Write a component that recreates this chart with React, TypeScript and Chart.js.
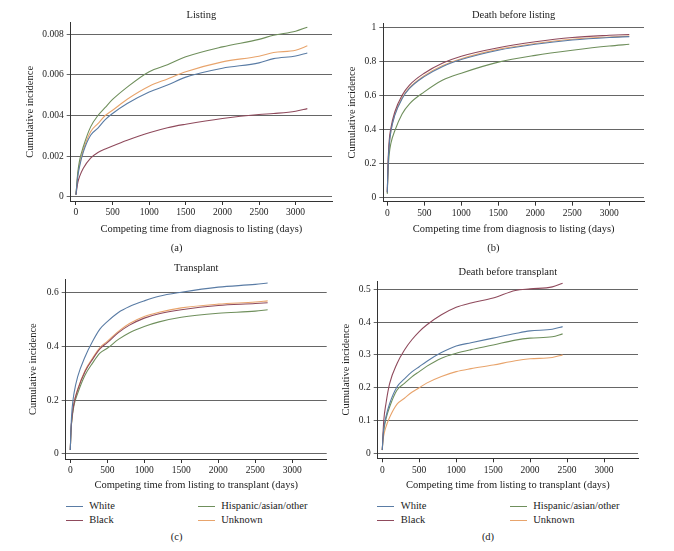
import React, { useEffect, useRef } from "react";
import { Chart, registerables } from "chart.js";
Chart.register(...registerables);

// ---------- data ----------
const seriesNames = ["White", "Black", "Hispanic/asian/other", "Unknown"];
const seriesColors = ["#5a7ca5", "#8f4a5c", "#6f8f5c", "#e8a46c"];

// (a) Listing
const listingTitle = "Listing";
const listingDays = [0, 25, 50, 100, 200, 300, 400, 500, 700, 1000, 1250, 1500, 2000, 2500, 2700, 3000, 3160];
const listingWhite = [0.0001, 0.001, 0.0015, 0.0022, 0.00303, 0.00338, 0.0038, 0.0041, 0.00459, 0.00516, 0.0055, 0.00589, 0.00633, 0.00659, 0.0068, 0.00693, 0.00708];
const listingBlack = [0.0001, 0.0007, 0.001, 0.0014, 0.0019, 0.00218, 0.00235, 0.0025, 0.00278, 0.00315, 0.0034, 0.00357, 0.00385, 0.00405, 0.0041, 0.00421, 0.00434];
const listingHispanic = [0.0001, 0.0012, 0.0018, 0.00246, 0.00344, 0.004, 0.0044, 0.00479, 0.0054, 0.00616, 0.0065, 0.00689, 0.00738, 0.00775, 0.00795, 0.00815, 0.00835];
const listingUnknown = [0.0001, 0.0011, 0.0016, 0.0023, 0.0032, 0.0036, 0.004, 0.00426, 0.0048, 0.00544, 0.0058, 0.00615, 0.00664, 0.00692, 0.0071, 0.00721, 0.00743];
const listingYTicks = [0, 0.002, 0.004, 0.006, 0.008];

// (b) Death before listing
const deathListTitle = "Death before listing";
const deathListDays = [0, 5, 10, 25, 50, 100, 200, 300, 500, 750, 1000, 1500, 2000, 2500, 3000, 3270];
const deathListWhite = [0.03, 0.11, 0.18, 0.3, 0.39, 0.48, 0.58, 0.64, 0.71, 0.77, 0.81, 0.865, 0.9, 0.925, 0.94, 0.945];
const deathListBlack = [0.03, 0.12, 0.2, 0.33, 0.41, 0.5, 0.6, 0.66, 0.73, 0.79, 0.83, 0.88, 0.915, 0.94, 0.953, 0.958];
const deathListHispanic = [0.02, 0.09, 0.15, 0.25, 0.32, 0.39, 0.49, 0.55, 0.62, 0.69, 0.73, 0.795, 0.835, 0.865, 0.89, 0.9];
const deathListUnknown = [0.03, 0.11, 0.185, 0.305, 0.395, 0.485, 0.585, 0.645, 0.715, 0.775, 0.815, 0.87, 0.905, 0.93, 0.943, 0.948];
const deathListYTicks = [0, 0.2, 0.4, 0.6, 0.8, 1];

// (c) Transplant
const transplantTitle = "Transplant";
const transplantDays = [0, 10, 25, 50, 100, 200, 300, 400, 500, 650, 800, 1000, 1200, 1500, 2000, 2500, 2667];
const transplantWhite = [0.015, 0.1, 0.17, 0.225, 0.287, 0.361, 0.417, 0.463, 0.491, 0.525, 0.547, 0.568, 0.585, 0.6, 0.619, 0.629, 0.634];
const transplantBlack = [0.015, 0.09, 0.14, 0.188, 0.238, 0.306, 0.351, 0.39, 0.413, 0.45, 0.478, 0.504, 0.52, 0.535, 0.551, 0.558, 0.561];
const transplantHispanic = [0.015, 0.085, 0.135, 0.18, 0.225, 0.293, 0.337, 0.374, 0.392, 0.425, 0.45, 0.473, 0.49, 0.507, 0.522, 0.53, 0.535];
const transplantUnknown = [0.015, 0.09, 0.14, 0.19, 0.24, 0.31, 0.355, 0.395, 0.418, 0.455, 0.484, 0.51, 0.526, 0.542, 0.556, 0.564, 0.568];
const transplantYTicks = [0, 0.2, 0.4, 0.6];

// (d) Death before transplant
const deathTxTitle = "Death before transplant";
const deathTxDays = [0, 10, 20, 50, 100, 200, 300, 400, 500, 600, 800, 1000, 1200, 1500, 1800, 2000, 2300, 2440];
const deathTxWhite = [0.01, 0.05, 0.075, 0.112, 0.152, 0.203, 0.227, 0.248, 0.264, 0.28, 0.307, 0.327, 0.337, 0.351, 0.365, 0.373, 0.378, 0.386];
const deathTxBlack = [0.01, 0.06, 0.1, 0.152, 0.213, 0.274, 0.315, 0.346, 0.371, 0.391, 0.422, 0.445, 0.458, 0.473, 0.496, 0.501, 0.507, 0.518];
const deathTxHispanic = [0.01, 0.05, 0.07, 0.105, 0.142, 0.193, 0.213, 0.233, 0.249, 0.265, 0.29, 0.305, 0.316, 0.33, 0.345, 0.351, 0.355, 0.364];
const deathTxUnknown = [0.01, 0.04, 0.055, 0.081, 0.11, 0.15, 0.168, 0.186, 0.2, 0.214, 0.234, 0.249, 0.258, 0.269, 0.282, 0.288, 0.292, 0.3];
const deathTxYTicks = [0, 0.1, 0.2, 0.3, 0.4, 0.5];

const xTicks = [0, 500, 1000, 1500, 2000, 2500, 3000];
const yAxisTitle = "Cumulative incidence";
const xTitleListing = "Competing time from diagnosis to listing (days)";
const xTitleTransplant = "Competing time from listing to transplant (days)";

// ---------- styles / layout ----------
const FONT = "'Liberation Serif', 'DejaVu Serif', serif";
const TEXT = "#222222";
const GRID = "#666666";
const AXIS = "#333333";

type Layout = {
  left: number; top: number; w: number; h: number;
  yAxisW: number; xAxisH: number; padR: number;
  titleTop: number; titleBottom: number;
  xTitlePB: number; yTitlePT: number;
  xMin: number; xMax: number; yMin: number; yMax: number;
};

type PanelDef = {
  title: string; xTitle: string; days: number[]; series: number[][]; yTicks: number[]; layout: Layout;
};

const panels: PanelDef[] = [
  {
    title: listingTitle, xTitle: xTitleListing, days: listingDays,
    series: [listingWhite, listingBlack, listingHispanic, listingUnknown], yTicks: listingYTicks,
    layout: { left: 0, top: 0, w: 337, h: 240, yAxisW: 70.7, xAxisH: 39, padR: 5, titleTop: 9.4, titleBottom: 0.7, xTitlePB: 4.7, yTitlePT: 23.7, xMin: -72, xMax: 3497, yMin: -0.00021, yMax: 0.00857 },
  },
  {
    title: deathListTitle, xTitle: xTitleListing, days: deathListDays,
    series: [deathListWhite, deathListBlack, deathListHispanic, deathListUnknown], yTicks: deathListYTicks,
    layout: { left: 337, top: 0, w: 337, h: 240, yAxisW: 46.3, xAxisH: 38.3, padR: 30, titleTop: 9.4, titleBottom: 1.3, xTitlePB: 4, yTitlePT: 8.7, xMin: -54, xMax: 3469, yMin: -0.026, yMax: 1.0235 },
  },
  {
    title: transplantTitle, xTitle: xTitleTransplant, days: transplantDays,
    series: [transplantWhite, transplantBlack, transplantHispanic, transplantUnknown], yTicks: transplantYTicks,
    layout: { left: 0, top: 250, w: 337, h: 245, yAxisW: 65.7, xAxisH: 36, padR: 10.3, titleTop: 11.7, titleBottom: 5, xTitlePB: 3.7, yTitlePT: 26.7, xMin: -62, xMax: 3465, yMin: -0.0186, yMax: 0.648 },
  },
  {
    title: deathTxTitle, xTitle: xTitleTransplant, days: deathTxDays,
    series: [deathTxWhite, deathTxBlack, deathTxHispanic, deathTxUnknown], yTicks: deathTxYTicks,
    layout: { left: 337, top: 250, w: 337, h: 245, yAxisW: 40.7, xAxisH: 36.7, padR: 36, titleTop: 15.7, titleBottom: 2.7, xTitlePB: 3.7, yTitlePT: 3.4, xMin: -62, xMax: 3460, yMin: -0.015, yMax: 0.525 },
  },
];

function Panel({ def }: { def: PanelDef }) {
  const ref = useRef<HTMLCanvasElement | null>(null);
  useEffect(() => {
    if (!ref.current) return;
    const L = def.layout;
    const tickFont = { family: FONT, size: 9.5, weight: "normal" };
    const titleFont = { family: FONT, size: 10.5, lineHeight: 1.2, weight: "normal" };
    const chart = new Chart(ref.current, {
      type: "line",
      data: {
        datasets: def.series.map((vals, i) => ({
          label: seriesNames[i],
          data: def.days.map((d, j) => ({ x: d, y: vals[j] })),
          borderColor: seriesColors[i],
          backgroundColor: seriesColors[i],
          borderWidth: 1.1,
          pointRadius: 0,
          cubicInterpolationMode: "monotone" as const,
          fill: false,
        })),
      },
      options: {
        animation: false,
        responsive: false,
        devicePixelRatio: 1,
        layout: { padding: { left: 0, right: L.padR, top: 0, bottom: 0 } },
        plugins: {
          legend: { display: false },
          tooltip: { enabled: false },
          title: {
            display: true,
            text: def.title,
            fullSize: false,
            color: TEXT,
            font: titleFont as any,
            padding: { top: L.titleTop, bottom: L.titleBottom },
          },
        },
        scales: {
          x: {
            type: "linear",
            min: L.xMin,
            max: L.xMax,
            afterBuildTicks: (axis: any) => { axis.ticks = xTicks.map((v) => ({ value: v })); },
            afterFit: (axis: any) => { axis.height = L.xAxisH; },
            grid: { drawOnChartArea: false, drawTicks: true, tickLength: 4, color: AXIS, lineWidth: 1 },
            border: { display: true, color: AXIS, width: 1 },
            ticks: { font: tickFont as any, color: TEXT, padding: 2, maxRotation: 0, autoSkip: false, callback: (v: any) => String(v) },
            title: { display: true, text: def.xTitle, color: TEXT, font: titleFont as any, padding: { top: 0, bottom: L.xTitlePB } },
          },
          y: {
            type: "linear",
            min: L.yMin,
            max: L.yMax,
            afterBuildTicks: (axis: any) => { axis.ticks = def.yTicks.map((v) => ({ value: v })); },
            afterFit: (axis: any) => { axis.width = L.yAxisW; },
            grid: { drawOnChartArea: true, drawTicks: true, tickLength: 4, color: GRID, lineWidth: 1 },
            border: { display: true, color: AXIS, width: 1 },
            ticks: { font: tickFont as any, color: TEXT, padding: 3, autoSkip: false, callback: (v: any) => String(v) },
            title: { display: true, text: yAxisTitle, color: TEXT, font: titleFont as any, padding: { top: L.yTitlePT, bottom: 0 } },
          },
        },
      },
    } as any);
    return () => chart.destroy();
  }, [def]);
  const L = def.layout;
  return (
    <canvas
      ref={ref}
      width={L.w}
      height={L.h}
      style={{ position: "absolute", left: L.left, top: L.top, width: L.w, height: L.h }}
    />
  );
}

const textStyle: React.CSSProperties = {
  position: "absolute",
  fontFamily: FONT,
  fontSize: 10.5,
  color: TEXT,
  lineHeight: "12px",
  whiteSpace: "nowrap",
};

function Legend({ x1, x2 }: { x1: number; x2: number }) {
  const rows = [506.7, 520];
  const cols = [x1, x2];
  const items = [0, 1, 2, 3];
  return (
    <>
      {items.map((i) => {
        const col = cols[Math.floor(i / 2)];
        const y = rows[i % 2];
        return (
          <React.Fragment key={i}>
            <div style={{ position: "absolute", left: col, top: y - 0.5, width: 17, height: 1, background: seriesColors[i] }} />
            <div style={{ ...textStyle, left: col + 23.5, top: y - 6.5 }}>{seriesNames[i]}</div>
          </React.Fragment>
        );
      })}
    </>
  );
}

function Letter({ x, y, t }: { x: number; y: number; t: string }) {
  return <div style={{ ...textStyle, left: x - 20, width: 40, textAlign: "center", top: y - 6.5 }}>{t}</div>;
}

export default function App() {
  return (
    <div style={{ position: "fixed", left: 0, top: 0, width: 674, height: 551, background: "#ffffff", overflow: "hidden" }}>
      {panels.map((p, i) => (
        <Panel key={i} def={p} />
      ))}
      <Legend x1={65.7} x2={197.7} />
      <Legend x1={377.3} x2={509.7} />
      <Letter x={176.7} y={248} t="(a)" />
      <Letter x={493.3} y={248} t="(b)" />
      <Letter x={176.7} y={537.7} t="(c)" />
      <Letter x={488} y={537.7} t="(d)" />
    </div>
  );
}
